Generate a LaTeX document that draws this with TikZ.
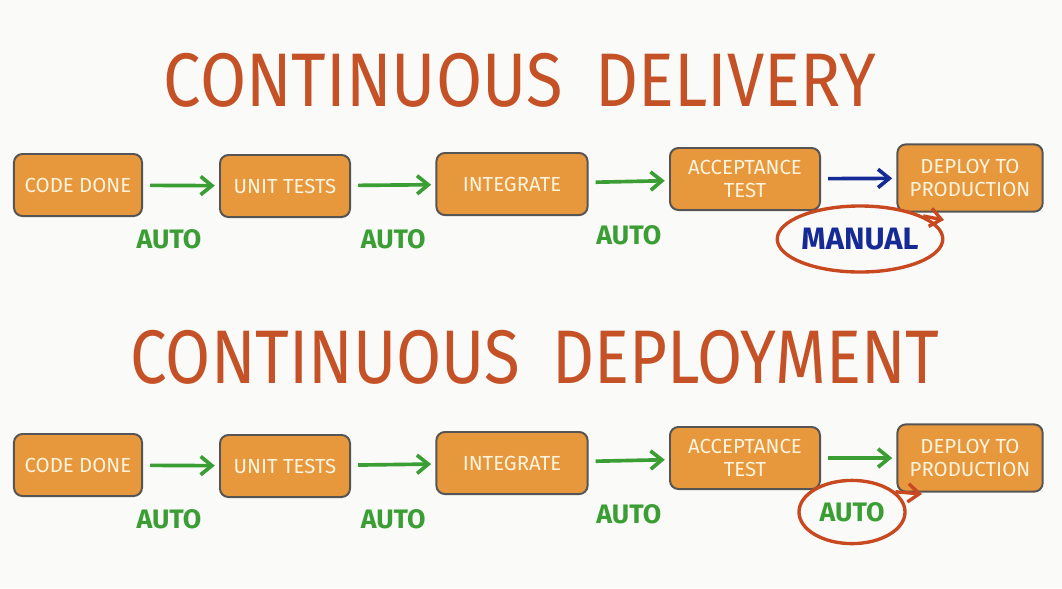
\documentclass[tikz,border=0pt]{standalone}
\usepackage{fontspec}
\setmainfont{Fira Sans}
\usetikzlibrary{shapes.geometric,positioning,arrows.meta}

\definecolor{boxorange}{RGB}{231,151,60}
\definecolor{boxline}{RGB}{85,85,85}
\definecolor{boxtext}{RGB}{255,244,222}
\definecolor{titlered}{RGB}{196,82,38}
\definecolor{autogreen}{RGB}{58,158,52}
\definecolor{manblue}{RGB}{22,42,150}
\definecolor{ringred}{RGB}{200,72,32}
\definecolor{paper}{RGB}{250,250,248}

\tikzset{
  stage/.style={draw=boxline, line width=1.4pt, fill=boxorange, rounded corners=6pt, text=boxtext,
    font=\fontsize{14.5}{16}\selectfont, align=center, minimum height=1.55cm, inner sep=2pt},
  title/.style={text=titlered, font=\fontsize{54}{58}\selectfont},
  autolabel/.style={text=autogreen, font=\bfseries\fontsize{19}{21}\selectfont},
  go/.style={->, autogreen, line width=2.6pt, shorten <=5pt, shorten >=3pt},
  ring/.style={draw=ringred, ellipse, line width=2.4pt, inner sep=0pt},
}

\begin{document}
\begin{tikzpicture}[x=0.025cm, y=-0.025cm, >={Straight Barb[length=8pt,width=13pt]}]
% pixel grid of the whole sheet, top left is (0,0)
\path[use as bounding box, fill=paper] (0,0) rectangle (1062,588);

% delivery: last step is a manual one
\node[title] (t1) at (520,80) {\scalebox{0.88}[1]{CONTINUOUS\hspace{0.5em}DELIVERY}};

\node[stage, minimum width=3.2cm] (cd1) at (78,185) {CODE DONE};
\node[stage, minimum width=3.25cm] (ut1) at (285,186) {UNIT TESTS};
\node[stage, minimum width=3.78cm] (in1) at (512,184) {INTEGRATE};
\node[stage, minimum width=3.75cm] (ac1) at (745,179) {ACCEPTANCE\\TEST};
\node[stage, minimum width=3.63cm, minimum height=1.68cm] (dp1) at (970,178) {DEPLOY TO\\PRODUCTION};

\draw [go] (cd1) -> (ut1) node [midway, below=27pt, xshift=-0.3cm, autolabel] (a11) {AUTO};
\draw [go] (ut1) -> (in1) node [midway, below=27pt, autolabel] (a12) {AUTO};
\draw [go] (in1) -> (ac1) node [midway, below=27pt, autolabel] (a13) {AUTO};
\draw [go, manblue] (ac1) -> (dp1);

\node[ring, text=manblue, font=\bfseries\fontsize{22}{24}\selectfont,
  minimum width=3.95cm, minimum height=1.65cm] (man) at (860,239) {MANUAL};
\coordinate (mtip) at (944,220);
\draw [->, ringred, line width=2.4pt] (man.20) -- (mtip);

% deployment: every step is automatic
\node[title] (t2) at (535,357) {\scalebox{0.86}[1]{CONTINUOUS\hspace{0.5em}DEPLOYMENT}};

\node[stage, minimum width=3.2cm] (cd2) at (78,465) {CODE DONE};
\node[stage, minimum width=3.25cm] (ut2) at (285,466) {UNIT TESTS};
\node[stage, minimum width=3.78cm] (in2) at (512,463) {INTEGRATE};
\node[stage, minimum width=3.75cm] (ac2) at (745,458) {ACCEPTANCE\\TEST};
\node[stage, minimum width=3.63cm, minimum height=1.68cm] (dp2) at (970,458) {DEPLOY TO\\PRODUCTION};

\draw [go] (cd2) -> (ut2) node [midway, below=27pt, xshift=-0.3cm, autolabel] (a21) {AUTO};
\draw [go] (ut2) -> (in2) node [midway, below=27pt, autolabel] (a22) {AUTO};
\draw [go] (in2) -> (ac2) node [midway, below=27pt, autolabel] (a23) {AUTO};
\draw [go] (ac2) -> (dp2);

\node[ring, autolabel, minimum width=2.65cm, minimum height=1.58cm] (a24) at (852,512) {AUTO};
\coordinate (atip) at (922,494);
\draw [->, ringred, line width=2.4pt] (a24.25) -- (atip);
\end{tikzpicture}
\end{document}
